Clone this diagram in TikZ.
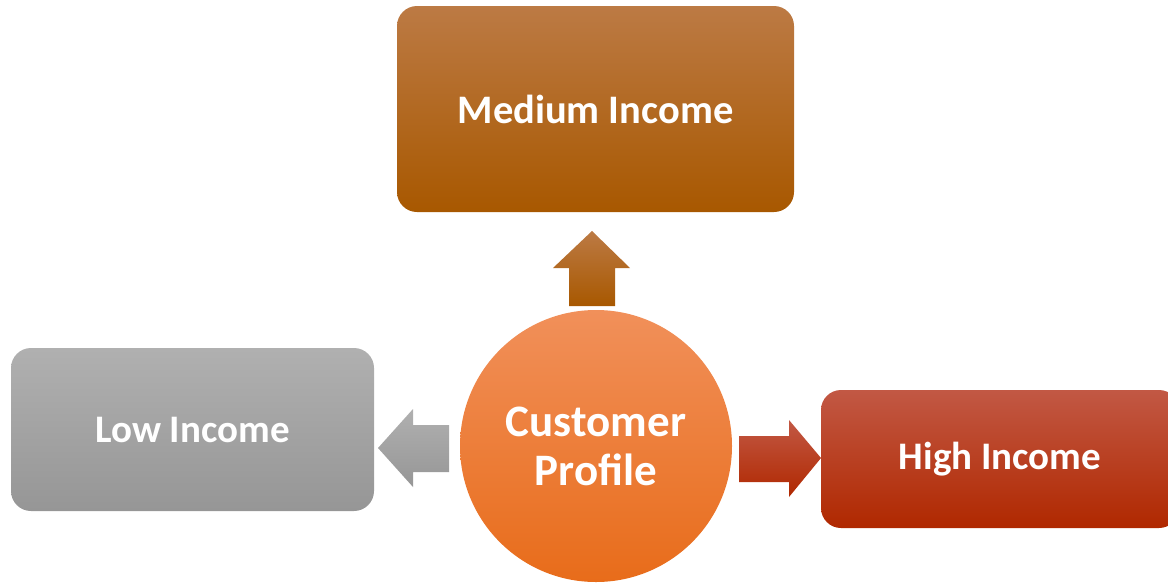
\documentclass[tikz,border=0pt]{standalone}
\usepackage{fontspec}
\setmainfont{Carlito}
\definecolor{medtop}{RGB}{188,122,68}
\definecolor{medmid}{RGB}{180,98,0}
\definecolor{medbot}{RGB}{168,88,0}
\definecolor{lowtop}{RGB}{176,176,176}
\definecolor{lowmid}{RGB}{163,163,163}
\definecolor{lowbot}{RGB}{150,150,150}
\definecolor{hightop}{RGB}{194,88,68}
\definecolor{highmid}{RGB}{186,46,0}
\definecolor{highbot}{RGB}{176,40,0}
\definecolor{cirtop}{RGB}{241,144,90}
\definecolor{cirmid}{RGB}{243,128,48}
\definecolor{cirbot}{RGB}{232,108,26}
\begin{document}
\begin{tikzpicture}[x=1pt,y=-1pt,
  box/.style={rounded corners=20pt, inner sep=0pt, text=white, font=\fontsize{39}{44}\selectfont\bfseries},
  medshade/.style={top color=medtop, middle color=medmid, bottom color=medbot},
  lowshade/.style={top color=lowtop, middle color=lowmid, bottom color=lowbot},
  highshade/.style={top color=hightop, middle color=highmid, bottom color=highbot},
  cirshade/.style={top color=cirtop, middle color=cirmid, bottom color=cirbot}]
\useasboundingbox (0,0) rectangle (1168,582);
\node[box, medshade, minimum width=397pt, minimum height=206pt, font=\fontsize{40.5}{44}\selectfont\bfseries] (med) at (595.5,109) {Medium Income};
\node[box, lowshade, minimum width=363pt, minimum height=163pt] (low) at (192.5,429.5) {Low Income};
\node[box, highshade, minimum width=358pt, minimum height=138pt] (high) at (1000,459) {High Income};
\node[circle, cirshade, minimum size=272pt, inner sep=0pt, text=white, align=center,
  font=\fontsize{45}{49}\selectfont\bfseries] (cp) at (596,446) {Customer\\Profile};
% block arrows
\shade[medshade] (569,306) -- (569,268) -- (553,268) -- (592,231) -- (630,268) -- (615,268) -- (615,306) -- cycle;
\shade[lowshade] (449,425) -- (413,425) -- (413,409) -- (378,448) -- (413,487) -- (413,472) -- (449,472) -- cycle;
\shade[highshade] (739,436) -- (789,436) -- (789,420) -- (821,458) -- (789,497) -- (789,482) -- (739,482) -- cycle;
\end{tikzpicture}
\end{document}
